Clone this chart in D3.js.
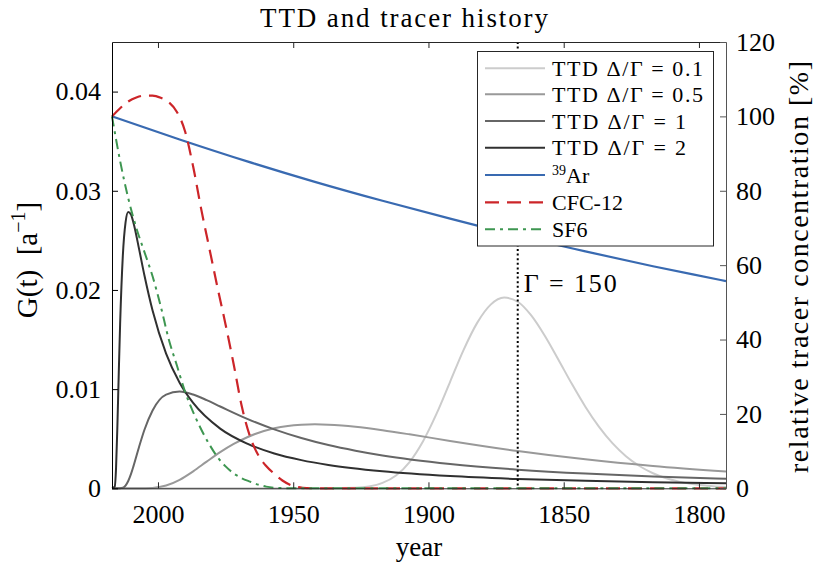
<!DOCTYPE html>
<html><head><meta charset="utf-8">
<script src="https://cdn.jsdelivr.net/npm/d3@7"></script>
<style>
body{margin:0;background:#fff}
svg text{font-family:"Liberation Serif","Times New Roman",serif;fill:#000}
</style>
</head><body><svg id="chart" width="814" height="567"></svg>
<script>
// ---------- data ----------
const xTicks = [2000, 1950, 1900, 1850, 1800];
const xTickLabels = ["2000", "1950", "1900", "1850", "1800"];
const yLeftTicks = [0, 0.01, 0.02, 0.03, 0.04];
const yLeftTickLabels = ["0", "0.01", "0.02", "0.03", "0.04"];
const yRightTicks = [0, 20, 40, 60, 80, 100, 120];
const yRightTickLabels = ["0", "20", "40", "60", "80", "100", "120"];

const seriesNames = ["TTD Δ/Γ = 0.1", "TTD Δ/Γ = 0.5", "TTD Δ/Γ = 1", "TTD Δ/Γ = 2", "39Ar", "CFC-12", "SF6"];

// TTD (left axis, a^-1)
const ttd01Years = [2017,1937,1927,1922,1917,1912,1907,1902,1897,1892,1887,1882,1877,1872,1867,1862,1857,1852,1847,1842,1837,1832,1827,1822,1817,1807,1797,1790];
const ttd01Values = [0,0,0.00005,0.00018,0.00054,0.00129,0.00265,0.00475,0.00753,0.01074,0.01396,0.01668,0.01852,0.01923,0.01881,0.01743,0.01538,0.01299,0.01053,0.00823,0.00622,0.00455,0.00324,0.00225,0.00152,0.00065,0.00026,0.00012];

const ttd05Years = [2017,2007,2002,1997,1992,1987,1982,1977,1972,1967,1957,1952,1947,1942,1937,1932,1927,1917,1907,1892,1867,1842,1817,1790];
const ttd05Values = [0,0,0.00004,0.00028,0.00086,0.00171,0.00269,0.00364,0.00447,0.00515,0.00605,0.00629,0.00641,0.00645,0.00642,0.00633,0.00620,0.00585,0.00544,0.00478,0.00376,0.00292,0.00225,0.00169];

const ttd1Years = [2017,2015,2013,2012,2011,2010,2009,2007,2005,2002,1997,1992,1987,1982,1977,1967,1957,1947,1937,1927,1917,1892,1867,1842,1817,1790];
const ttd1Values = [0,0,0.00006,0.00028,0.00074,0.00143,0.00229,0.00417,0.00590,0.00785,0.00945,0.00975,0.00945,0.00889,0.00825,0.00700,0.00594,0.00507,0.00436,0.00379,0.00331,0.00245,0.00188,0.00148,0.00120,0.00096];

const ttd2Years = [2017,2016,2015.5,2015,2014.5,2014,2013,2012,2011,2010,2009,2007,2005,2002,1997,1992,1987,1977,1967,1957,1947,1937,1917,1892,1867,1842,1817,1790];
const ttd2Values = [0,0.00017,0.00206,0.00637,0.01163,0.01654,0.02344,0.02680,0.02785,0.02761,0.02671,0.02414,0.02145,0.01792,0.01358,0.01065,0.00861,0.00602,0.00450,0.00351,0.00284,0.00235,0.00171,0.00123,0.00094,0.00075,0.00061,0.00050];

// tracers (right axis, %)
const ar39Years = [2017,1992,1967,1942,1917,1892,1867,1842,1817,1792,1790];
const ar39Values = [100,93.8,87.9,82.4,77.3,72.5,67.9,63.7,59.7,56.0,55.7];

const cfc12Years = [2017,2014,2011,2008,2005,2002,1999,1996,1993,1990,1987,1984,1981,1978,1975,1972,1969,1966,1963,1960,1957,1954,1951,1948,1945,1940,1790];
const cfc12Values = [100,102.2,104,105.1,105.6,105.6,105,103.8,101.2,96,86.5,75,64.5,54,44,33.3,22,14,9,6,3.9,2.1,0.9,0.3,0.05,0,0];

const sf6Years = [2017,2014,2011,2008,2005,2002,1999,1996,1993,1990,1987,1984,1981,1978,1975,1972,1969,1966,1963,1960,1957,1954,1950,1790];
const sf6Values = [100,88,78,70,63.5,57,49,40,33,26,20.5,15.8,11.8,8.4,5.9,4.0,2.7,1.8,1.0,0.45,0.15,0.05,0,0];

const meanAge = 2017 - 150; // Γ = 150 marker

// ---------- chart ----------
const svg = d3.select("#chart");
const L = 112, R = 726, T = 42, B = 488.3;
const FONT = 26;

const x = d3.scaleLinear().domain([2017, 1790]).range([L, R]);
const yL = d3.scaleLinear().domain([0, 0.045]).range([B, T]);
const yR = d3.scaleLinear().domain([0, 120]).range([B, T]);

const zip = (a, b) => a.map((v, i) => [v, b[i]]);
const lineL = d3.line().x(d => x(d[0])).y(d => yL(d[1])).curve(d3.curveMonotoneX);
const lineR = d3.line().x(d => x(d[0])).y(d => yR(d[1])).curve(d3.curveMonotoneX);

const styles = [
  {color:"#cccccc", dash:null, w:2},
  {color:"#999999", dash:null, w:2},
  {color:"#666666", dash:null, w:2},
  {color:"#303030", dash:null, w:2},
  {color:"#396ab1", dash:null, w:2.2},
  {color:"#cc2529", dash:"14,8", w:2.2},
  {color:"#3e9651", dash:"10,5,3,5", w:2}
];

const ttdData = [zip(ttd01Years, ttd01Values), zip(ttd05Years, ttd05Values), zip(ttd1Years, ttd1Values), zip(ttd2Years, ttd2Values)];
const tracerData = [zip(ar39Years, ar39Values), zip(cfc12Years, cfc12Values), zip(sf6Years, sf6Values)];

const plot = svg.append("g");
ttdData.forEach((d, i) => {
  plot.append("path").attr("d", lineL(d)).attr("fill","none")
    .attr("stroke", styles[i].color).attr("stroke-width", styles[i].w);
});
// dotted mean age line
plot.append("line").attr("x1", x(meanAge)).attr("x2", x(meanAge)).attr("y1", T).attr("y2", B)
  .attr("stroke","#000").attr("stroke-width",2).attr("stroke-dasharray","2,2.6");
tracerData.forEach((d, j) => {
  const s = styles[4 + j];
  plot.append("path").attr("d", lineR(d)).attr("fill","none")
    .attr("stroke", s.color).attr("stroke-width", s.w)
    .attr("stroke-dasharray", s.dash);
});

plot.append("text").attr("x", x(meanAge) + 6).attr("y", 291.5)
  .attr("font-size", FONT).attr("textLength", 93).attr("lengthAdjust","spacing")
  .text("Γ = 150");

// ---------- axes ----------
function styleAxis(g, color, textColor) {
  g.attr("font-family", null).attr("font-size", null);
  g.selectAll("path,line").attr("stroke", color);
  g.selectAll("text").attr("font-size", FONT).style("fill", textColor);
}
const gB = svg.append("g").attr("transform", `translate(0,${B})`)
  .call(d3.axisBottom(x).tickValues(xTicks).tickFormat((d, i) => xTickLabels[i])
    .tickSizeInner(-6).tickSizeOuter(0).tickPadding(16));
styleAxis(gB, "#262626", "#000");
const gT = svg.append("g").attr("transform", `translate(0,${T})`)
  .call(d3.axisTop(x).tickValues(xTicks).tickFormat("").tickSizeInner(-6).tickSizeOuter(0));
styleAxis(gT, "#262626", "#000");
const gL = svg.append("g").attr("transform", `translate(${L},0)`)
  .call(d3.axisLeft(yL).tickValues(yLeftTicks).tickFormat((d, i) => yLeftTickLabels[i])
    .tickSizeInner(-6).tickSizeOuter(0).tickPadding(11));
styleAxis(gL, "#000", "#000");
const gR = svg.append("g").attr("transform", `translate(${R},0)`)
  .call(d3.axisRight(yR).tickValues(yRightTicks).tickFormat((d, i) => yRightTickLabels[i])
    .tickSizeInner(-6).tickSizeOuter(0).tickPadding(10));
styleAxis(gR, "#555", "#000");

// ---------- labels ----------
svg.append("text").attr("x", 404).attr("y", 27).attr("text-anchor","middle")
  .attr("font-size", 27).attr("textLength", 288).attr("lengthAdjust","spacing")
  .text("TTD and tracer history");
svg.append("text").attr("x", (L + R) / 2).attr("y", 556).attr("text-anchor","middle")
  .attr("font-size", 27).text("year");
const yl = svg.append("text").attr("transform","translate(37,260) rotate(-90)")
  .attr("text-anchor","middle").attr("font-size", 29);
yl.append("tspan").text("G(t)\u2002[a");
yl.append("tspan").attr("font-size", 20).attr("dy", -12).text("\u2212" + "1");
yl.append("tspan").attr("dy", 12).text("]");
svg.append("text").attr("transform","translate(808,267) rotate(-90)")
  .attr("text-anchor","middle").attr("font-size", 28)
  .attr("textLength", 412).attr("lengthAdjust","spacing")
  .text("relative tracer concentration [%]");

// ---------- legend ----------
const lg = svg.append("g");
lg.append("rect").attr("x", 477.5).attr("y", 51.5).attr("width", 236).attr("height", 194.5)
  .attr("fill","#fff").attr("stroke","#262626").attr("stroke-width",1);
const rowY = [68.3, 94.3, 121, 147.7, 175, 202.3, 229.3];
const legendLen = [151, 151, 134, 134, null, null, null];
seriesNames.forEach((name, i) => {
  const s = styles[i];
  lg.append("line").attr("x1", 485).attr("x2", 545).attr("y1", rowY[i]).attr("y2", rowY[i])
    .attr("stroke", s.color).attr("stroke-width", s.w).attr("stroke-dasharray", s.dash);
  const t = lg.append("text").attr("x", 552).attr("y", rowY[i] + 7.5).attr("font-size", 22);
  if (name === "39Ar") {
    t.append("tspan").attr("font-size", 14).attr("dy", -8).text("39");
    t.append("tspan").attr("dy", 8).text("Ar");
  } else {
    t.text(name);
    if (legendLen[i]) t.attr("textLength", legendLen[i]).attr("lengthAdjust","spacing");
  }
});
</script>
</body></html>
